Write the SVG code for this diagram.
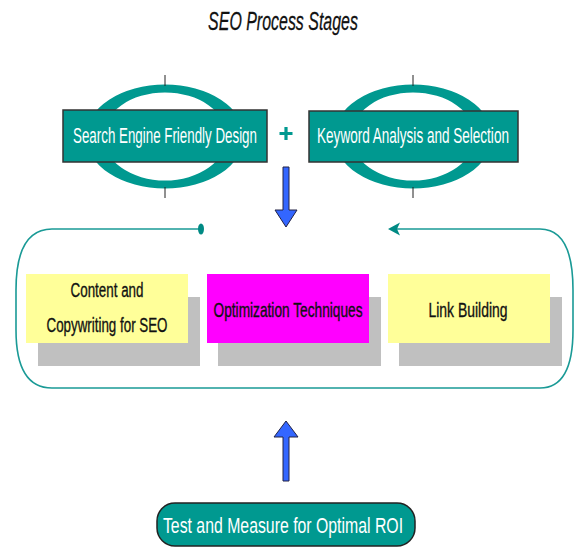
<svg xmlns="http://www.w3.org/2000/svg" width="575" height="548" viewBox="0 0 575 548">
<style>
.lbl{font-family:"Liberation Sans",Arial,sans-serif;text-anchor:middle;}
.w{fill:#ffffff;font-size:22px;}
.k{fill:#111111;font-size:21px;stroke:#111111;stroke-width:0.35;}
.ring{fill:#009990;fill-rule:evenodd;}
.tick{stroke:#222;stroke-width:1;}
.box{stroke:#333;stroke-width:1.5;fill:#009990;}
.shadow{fill:#c0c0c0;}
.blue{fill:#3366ff;stroke:#222244;stroke-width:1;}
.loop{fill:none;stroke:#1a9a96;stroke-width:1.6;}
</style>
<rect width="575" height="548" fill="#ffffff"/>
<text class="lbl" transform="translate(283,30) scale(0.614,1)" x="0" y="0" font-size="26" font-style="italic" fill="#111" stroke="#111" stroke-width="0.3" textLength="244" lengthAdjust="spacingAndGlyphs">SEO Process Stages</text>

<g id="node-design">
<path class="ring" d="M86,136.5 a79,52 0 1,0 158,0 a79,52 0 1,0 -158,0 Z M103,136.5 a62,44 0 1,0 124,0 a62,44 0 1,0 -124,0 Z"/>
<line class="tick" x1="165" y1="75" x2="165" y2="86"/>
<line class="tick" x1="165" y1="187" x2="165" y2="198"/>
<rect class="box" x="63" y="110" width="204" height="52"/>
<text class="lbl w" transform="translate(165,143) scale(0.607,1)" x="0" y="0" textLength="303" lengthAdjust="spacingAndGlyphs">Search Engine Friendly Design</text>
</g>

<g id="node-keyword">
<path class="ring" d="M334,136.5 a79,52 0 1,0 158,0 a79,52 0 1,0 -158,0 Z M351,136.5 a62,44 0 1,0 124,0 a62,44 0 1,0 -124,0 Z"/>
<line class="tick" x1="413" y1="75" x2="413" y2="86"/>
<line class="tick" x1="413" y1="187" x2="413" y2="198"/>
<rect class="box" x="309" y="111" width="209" height="51"/>
<text class="lbl w" transform="translate(413,143) scale(0.613,1)" x="0" y="0" textLength="313" lengthAdjust="spacingAndGlyphs">Keyword Analysis and Selection</text>
</g>

<g id="plus">
<path d="M286,127 V140 M279.5,133.5 H292.5" stroke="#009990" stroke-width="3.2" fill="none"/>
</g>

<g id="connectors">
<path class="blue" d="M283,167 H289 V210 H297 L286,227 L275,210 H283 Z"/>
<path class="blue" d="M283,481 H289 V437 H298 L286,421 L274,437 H283 Z"/>
<path class="loop" d="M201,229 H52 C28,229 16,250 16,290 V330 C16,368 28,388 52,388 H540 C562,388 573,368 573,330 V290 C573,250 562,229 540,229 H396"/>
<ellipse cx="201" cy="229" rx="3" ry="5.5" fill="#008a84"/>
<path d="M388,229 L400,222.5 L397,229 L400,235.5 Z" fill="#008a84"/>
</g>

<g id="node-content">
<rect class="shadow" x="38" y="297" width="162" height="69"/>
<rect x="26" y="274" width="162" height="69" fill="#ffff99"/>
<text class="lbl k" transform="translate(107,297) scale(0.638,1)" x="0" y="0" textLength="114.4" lengthAdjust="spacingAndGlyphs">Content and</text>
<text class="lbl k" transform="translate(107,332) scale(0.636,1)" x="0" y="0" textLength="190.2" lengthAdjust="spacingAndGlyphs">Copywriting for SEO</text>
</g>

<g id="node-optimization">
<rect class="shadow" x="218" y="297" width="163" height="69"/>
<rect x="207" y="274" width="162" height="69" fill="#ff00ff"/>
<text class="lbl k" transform="translate(288,317) scale(0.645,1)" x="0" y="0" textLength="231" lengthAdjust="spacingAndGlyphs">Optimization Techniques</text>
</g>

<g id="node-link">
<rect class="shadow" x="399" y="297" width="163" height="69"/>
<rect x="388" y="274" width="162" height="69" fill="#ffff99"/>
<text class="lbl k" transform="translate(468,317) scale(0.664,1)" x="0" y="0" textLength="119" lengthAdjust="spacingAndGlyphs">Link Building</text>
</g>

<g id="node-test">
<rect x="157" y="503" width="258" height="43" rx="18" ry="18" fill="#009990" stroke="#222" stroke-width="1.5"/>
<text class="lbl w" transform="translate(283,533) scale(0.561,1)" x="0" y="0" font-size="28" textLength="428" lengthAdjust="spacingAndGlyphs">Test and Measure for Optimal ROI</text>
</g>
</svg>
